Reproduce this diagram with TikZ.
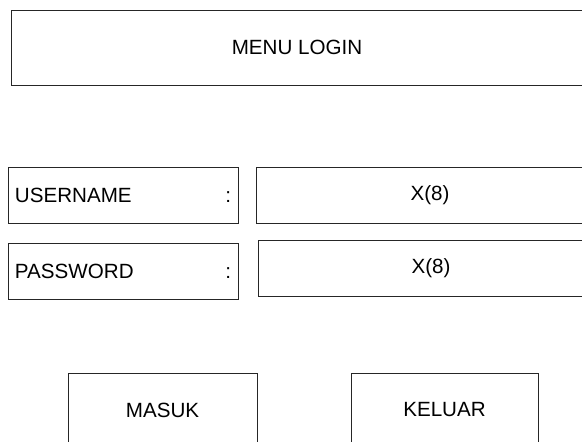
\documentclass[tikz,border=0pt]{standalone}
\usepackage{fontspec}
\setmainfont{Liberation Sans}
\usetikzlibrary{positioning}
\tikzstyle{judul} = [rectangle, minimum width = 572pt, minimum height = 75pt, text centered, draw = black!85, line width = 0.8pt, inner sep = 0pt]
\tikzstyle{label} = [rectangle, minimum width = 230pt, minimum height = 56pt, text width = 216pt, align = left, draw = black!85, line width = 0.8pt, inner xsep = 7pt, inner ysep = 0pt]
\tikzstyle{isian} = [rectangle, minimum width = 348pt, minimum height = 56pt, text centered, draw = black!85, line width = 0.8pt, inner sep = 0pt]
\tikzstyle{tombol} = [rectangle, minimum width = 189pt, minimum height = 74pt, text centered, draw = black!85, line width = 0.8pt, inner sep = 0pt]

\begin{document}
\begin{tikzpicture}[x = 1pt, y = 1pt, font = \fontsize{20.6}{24}\selectfont]
\useasboundingbox (0,0) rectangle (582,-442);

\node(menulogin) [judul] at (297,-47.5) {MENU LOGIN};

\node(username) [label] at (123,-195) {USERNAME\hfill:\hspace{3pt}};
\node(userisi)  [isian] at (430,-195) {X(8)};
\node(password) [label] at (123,-271) {PASSWORD\hfill:\hspace{3pt}};
\node(passisi)  [isian, minimum width = 346pt] at (431,-268) {X(8)};

\node(masuk)  [tombol] at (162.5,-410) {MASUK};
\node(keluar) [tombol, minimum width = 187pt] at (444.5,-410) {KELUAR};

\end{tikzpicture}
\end{document}
